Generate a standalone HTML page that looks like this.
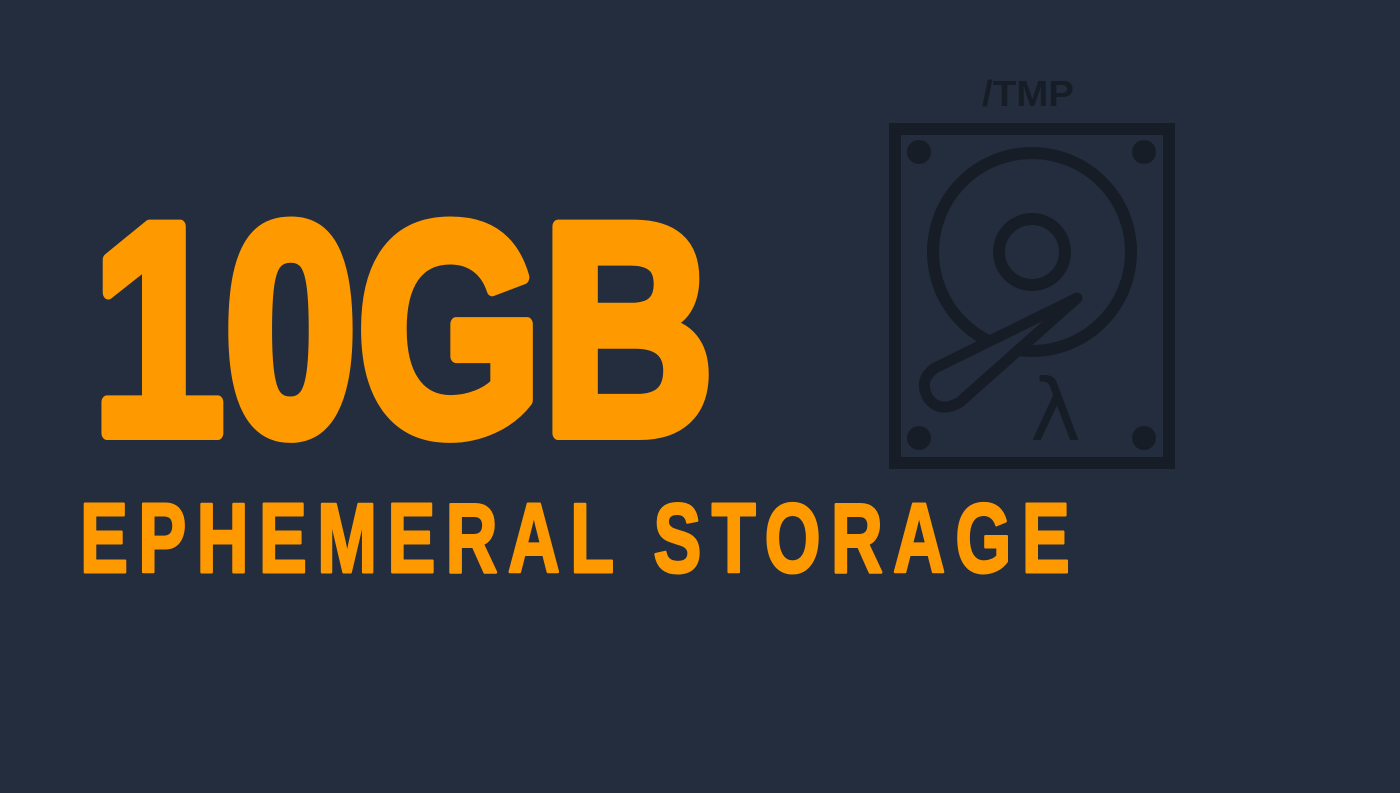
<!DOCTYPE html>
<html><head><style>html,body{margin:0;padding:0;background:#232d3d;}</style></head>
<body>
<svg width="1400" height="788" viewBox="0 0 1400 788" xmlns="http://www.w3.org/2000/svg">
<rect width="1400" height="788" fill="#232d3d"/>
<text x="92" y="433" font-family="Liberation Sans, sans-serif" font-weight="bold" font-size="300" fill="#ff9900" textLength="622" lengthAdjust="spacingAndGlyphs" stroke="#ff9900" stroke-width="14" stroke-linejoin="round">10GB</text>
<text x="80" y="572" font-family="Liberation Sans, sans-serif" font-weight="bold" font-size="98" letter-spacing="14" fill="#ff9900" textLength="1000" lengthAdjust="spacingAndGlyphs" stroke="#ff9900" stroke-width="3" stroke-linejoin="round">EPHEMERAL STORAGE</text>
<text x="982" y="106" font-family="Liberation Sans, sans-serif" font-weight="bold" font-size="36" fill="#161d26" textLength="92" lengthAdjust="spacingAndGlyphs">/TMP</text>
<g fill="none" stroke="#161d26" stroke-width="12">
<rect x="895" y="129" width="274" height="334"/>
<circle cx="1032" cy="252" r="99"/>
<circle cx="1032" cy="252" r="33"/>
</g>
<g fill="#161d26">
<circle cx="919" cy="152" r="12"/><circle cx="1144" cy="152" r="12"/>
<circle cx="919" cy="438" r="12"/><circle cx="1144" cy="438" r="12"/>
<circle cx="949" cy="387" r="12"/>
</g>
<path d="M1077 298 L935 368 Q918 380 928 398 Q940 414 960 402 Z" fill="#232d3d" stroke="#161d26" stroke-width="11" stroke-linejoin="round"/>
<text x="1030" y="440" font-family="DejaVu Sans, sans-serif" font-size="86" fill="#161d26">λ</text>
</svg>
</body></html>
